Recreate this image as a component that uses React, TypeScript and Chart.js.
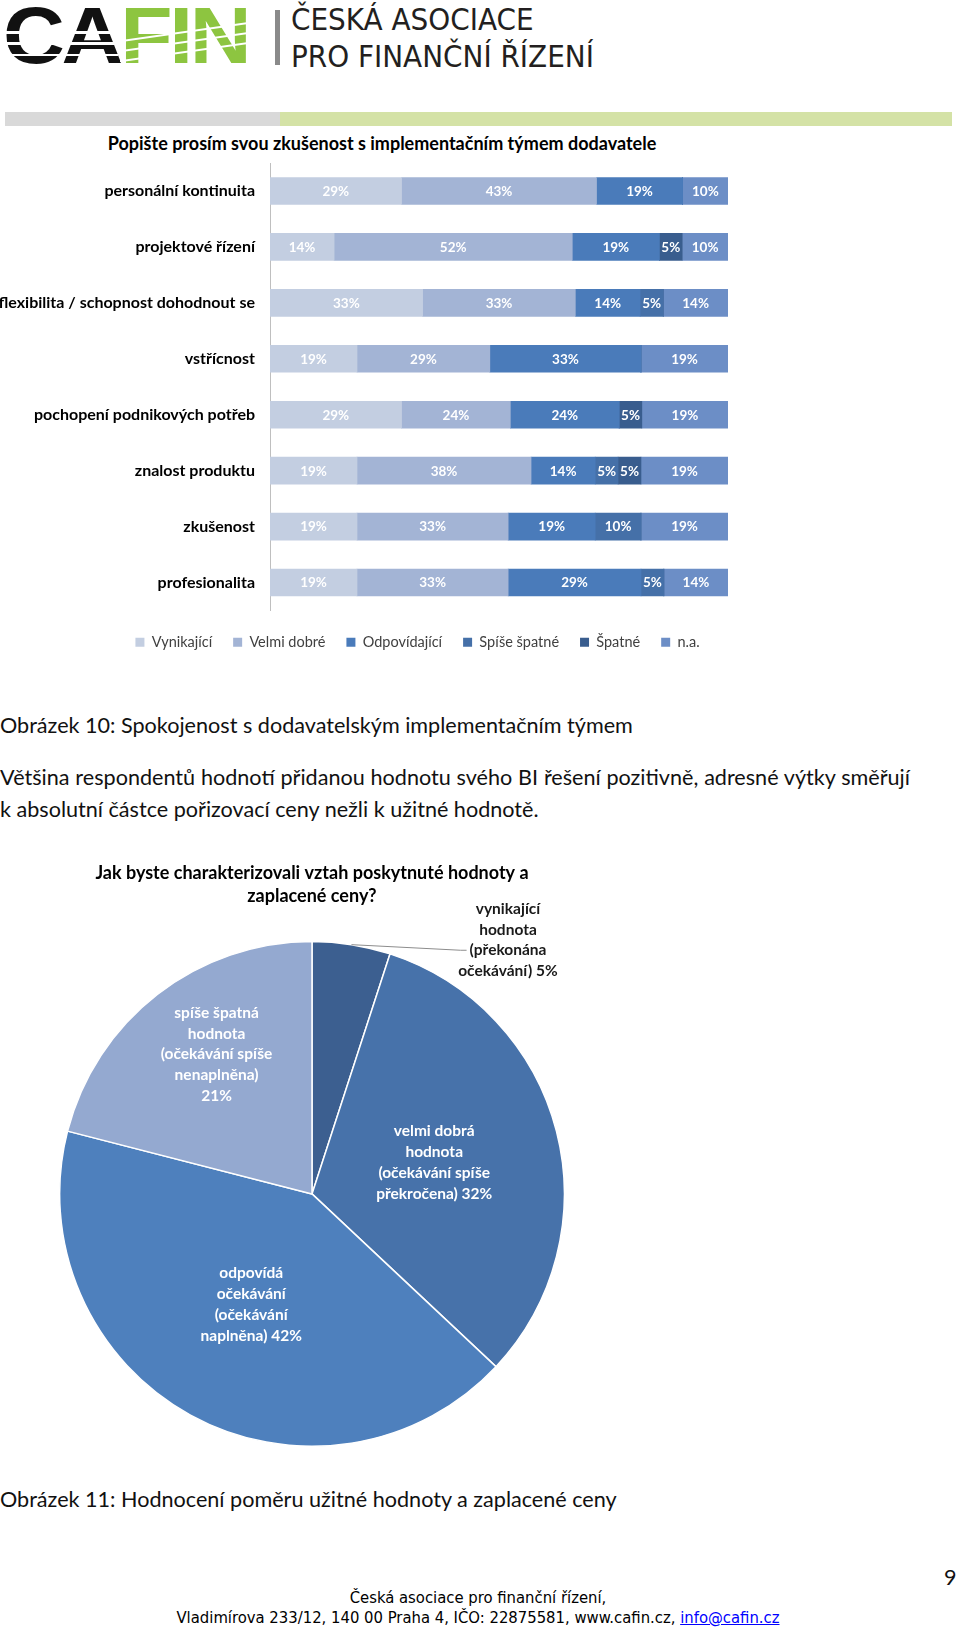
import React, { useEffect, useRef } from "react";
import { Chart, registerables } from "chart.js";
Chart.register(...registerables);

// ---------- Bar chart data ----------
const barTitle = "Popište prosím svou zkušenost s implementačním týmem dodavatele";
const barCategories = [
  "personální kontinuita",
  "projektové řízení",
  "flexibilita / schopnost dohodnout se",
  "vstřícnost",
  "pochopení podnikových potřeb",
  "znalost produktu",
  "zkušenost",
  "profesionalita",
];
const seriesNames = ["Vynikající", "Velmi dobré", "Odpovídající", "Spíše špatné", "Špatné", "n.a."];
const vynikajici = [29, 14, 33, 19, 29, 19, 19, 19];
const velmiDobre = [43, 52, 33, 29, 24, 38, 33, 33];
const odpovidajici = [19, 19, 14, 33, 24, 14, 19, 29];
const spiseSpatne = [0, 0, 5, 0, 0, 5, 10, 5];
const spatne = [0, 5, 0, 0, 5, 5, 0, 0];
const nA = [10, 10, 14, 19, 19, 19, 19, 14];
const seriesValues = [vynikajici, velmiDobre, odpovidajici, spiseSpatne, spatne, nA];
const seriesColors = ["#c3cee1", "#a3b4d5", "#4a7bba", "#4570a8", "#395d8e", "#6c8ec6"];

// ---------- Pie chart data ----------
const pieTitle = ["Jak byste charakterizovali vztah poskytnuté hodnoty a", "zaplacené ceny?"];
const pieCategoryLines = [
  ["vynikající", "hodnota", "(překonána", "očekávání)"],
  ["velmi dobrá", "hodnota", "(očekávání spíše", "překročena)"],
  ["odpovídá", "očekávání", "(očekávání", "naplněna)"],
  ["spíše špatná", "hodnota", "(očekávání spíše", "nenaplněna)"],
];
const pieValues = [5, 32, 42, 21];
const pieColors = ["#3c5f90", "#4772aa", "#4e80bd", "#94a9d0"];

// label placement style (fraction of radius / angle nudge, callout for first slice)
const pieLabelRadius = [0, 0.5, 0.5, 0.67];
const pieLabelAngleNudge = [0, 0, 0, 0.06];
const piePercentOwnLine = [false, false, false, true];
const calloutOffset = { dx: 196, dy: -254 };

const FONT = "Lato, 'Open Sans', sans-serif";
const NARROW = "'Liberation Sans Narrow', 'DejaVu Sans Condensed', sans-serif";

const barLabelPlugin = {
  id: "barLabels",
  afterDatasetsDraw(chart: any) {
    const ctx = chart.ctx;
    ctx.save();
    ctx.font = `bold 13.5px ${FONT}`;
    ctx.fillStyle = "#ffffff";
    ctx.textAlign = "center";
    ctx.textBaseline = "middle";
    chart.data.datasets.forEach((_ds: any, di: number) => {
      const meta = chart.getDatasetMeta(di);
      const raw = seriesValues[di];
      meta.data.forEach((el: any, i: number) => {
        const v = raw[i];
        if (!v) return;
        const { x, base, y } = el.getProps(["x", "base", "y"], true);
        ctx.fillText(`${v}%`, (x + base) / 2, y + 0.5);
      });
    });
    ctx.restore();
  },
};

// shift the legend so that it is centred like in the original document
const legendShiftPlugin = {
  id: "legendShift",
  afterLayout(chart: any) {
    const lg = chart.legend;
    if (!lg) return;
    lg.left += 53.5;
    lg.right += 53.5;
    lg.top += 3.5;
    lg.bottom += 3.5;
  },
};

const pieLabelPlugin = {
  id: "pieLabels",
  afterDatasetsDraw(chart: any) {
    const ctx = chart.ctx;
    const meta = chart.getDatasetMeta(0);
    const lh = 20.7;
    ctx.save();
    ctx.font = `bold 15.5px ${FONT}`;
    ctx.textAlign = "center";
    ctx.textBaseline = "middle";
    meta.data.forEach((el: any, i: number) => {
      const { x, y, startAngle, endAngle, outerRadius } = el.getProps(
        ["x", "y", "startAngle", "endAngle", "outerRadius"],
        true
      );
      const mid = (startAngle + endAngle) / 2;
      const lines = pieCategoryLines[i].slice();
      if (piePercentOwnLine[i]) lines.push(`${pieValues[i]}%`);
      else lines[lines.length - 1] = `${lines[lines.length - 1]} ${pieValues[i]}%`;
      let cx: number, cy: number;
      if (pieLabelRadius[i] === 0) {
        cx = x + calloutOffset.dx;
        cy = y + calloutOffset.dy;
        ctx.fillStyle = "#1a1a1a";
        const sx = x + Math.cos(mid) * outerRadius;
        const sy = y + Math.sin(mid) * outerRadius;
        const lineY = cy - ((lines.length - 1) / 2) * lh + 2 * lh;
        const w = ctx.measureText(lines[2]).width;
        const ex = cx - w / 2 - 3;
        ctx.beginPath();
        ctx.strokeStyle = "#8c8c8c";
        ctx.lineWidth = 1;
        ctx.moveTo(sx, sy);
        ctx.lineTo(ex - 6, lineY);
        ctx.lineTo(ex, lineY);
        ctx.stroke();
      } else {
        const r = outerRadius * pieLabelRadius[i];
        const a = mid + pieLabelAngleNudge[i];
        cx = x + Math.cos(a) * r;
        cy = y + Math.sin(a) * r;
        ctx.fillStyle = "#ffffff";
      }
      const top = cy - ((lines.length - 1) / 2) * lh;
      lines.forEach((t, k) => ctx.fillText(t, cx, top + k * lh));
    });
    ctx.restore();
  },
};

function BarChart() {
  const ref = useRef<HTMLCanvasElement | null>(null);
  useEffect(() => {
    if (!ref.current) return;
    const sums = barCategories.map((_c, i) => seriesValues.reduce((s, arr) => s + arr[i], 0));
    const chart = new Chart(ref.current, {
      type: "bar",
      data: {
        labels: barCategories,
        datasets: seriesNames.map((name, di) => ({
          label: name,
          data: seriesValues[di].map((v, i) => (v / sums[i]) * 100),
          backgroundColor: seriesColors[di],
          borderWidth: 0,
          barThickness: 27,
        })),
      },
      options: {
        indexAxis: "y",
        animation: false,
        responsive: false,
        events: [],
        layout: { padding: { top: 8, left: 0, right: 12, bottom: 0 } },
        scales: {
          x: { stacked: true, min: 0, max: 100, display: false },
          y: {
            stacked: true,
            grid: { display: false, drawTicks: false },
            border: { display: true, color: "#bfbfbf", width: 1 },
            ticks: { padding: 15, color: "#000000", font: { family: FONT, size: 16, weight: "bold" } },
            afterFit: (s: any) => {
              s.width = 270;
              s.paddingTop = 0;
              s.paddingBottom = 0;
            },
          },
        },
        plugins: {
          legend: {
            position: "bottom",
            labels: {
              boxWidth: 9,
              boxHeight: 9,
              padding: 21,
              color: "#404040",
              font: { family: FONT, size: 14.5 },
            },
          },
          tooltip: { enabled: false },
          title: { display: false },
        },
      } as any,
      plugins: [barLabelPlugin, legendShiftPlugin],
    });
    return () => chart.destroy();
  }, []);
  return (
    <canvas
      ref={ref}
      width={740}
      height={501}
      style={{ position: "absolute", left: 0, top: 155, width: 740, height: 501 }}
    />
  );
}

function PieChart() {
  const ref = useRef<HTMLCanvasElement | null>(null);
  useEffect(() => {
    if (!ref.current) return;
    const chart = new Chart(ref.current, {
      type: "pie",
      data: {
        labels: pieCategoryLines.map((l) => l.join(" ")),
        datasets: [
          {
            data: pieValues,
            backgroundColor: pieColors,
            borderColor: "#ffffff",
            borderWidth: 1.5,
            hoverOffset: 0,
          },
        ],
      },
      options: {
        animation: false,
        responsive: false,
        events: [],
        layout: { padding: 0 },
        plugins: {
          legend: { display: false },
          tooltip: { enabled: false },
          title: {
            display: true,
            text: pieTitle,
            color: "#000000",
            font: { family: FONT, size: 18, weight: "bold", lineHeight: 1.3 },
            padding: { top: 6.5, bottom: 32.5 },
          },
        },
      } as any,
      plugins: [pieLabelPlugin],
    });
    return () => chart.destroy();
  }, []);
  return (
    <canvas
      ref={ref}
      width={624}
      height={592}
      style={{ position: "absolute", left: 0, top: 855, width: 624, height: 592 }}
    />
  );
}

const abs = (s: React.CSSProperties): React.CSSProperties => ({ position: "absolute", margin: 0, ...s });

const textStyle: React.CSSProperties = {
  fontFamily: FONT,
  fontSize: 21.6,
  lineHeight: "24px",
  color: "#111",
  whiteSpace: "nowrap",
};

export default function App() {
  return (
    <div style={abs({ left: 0, top: 0, width: 960, height: 1629, background: "#ffffff", overflow: "hidden" })}>
      {/* logo */}
      <div
        style={abs({
          left: 3,
          top: -6,
          fontFamily: "'Liberation Sans', Arial, sans-serif",
          fontWeight: 900,
          fontSize: 80,
          lineHeight: "84px",
          letterSpacing: -3,
          transform: "scaleX(1.07)",
          transformOrigin: "left top",
          whiteSpace: "nowrap",
        })}
      >
        <span style={{ color: "#111111" }}>CA</span>
        <span style={{ color: "#8dc540" }}>FIN</span>
      </div>
      {/* logo stripes */}
      <div style={abs({ left: 0, top: 31, width: 118, height: 3, background: "#fff" })} />
      <div style={abs({ left: 0, top: 42, width: 118, height: 3, background: "#fff" })} />
      <div style={abs({ left: 0, top: 54, width: 118, height: 2, background: "#fff" })} />
      <div style={abs({ left: 120, top: 31, width: 130, height: 2, background: "#fff", transform: "skewY(-8deg)" })} />
      <div style={abs({ left: 120, top: 41, width: 130, height: 2, background: "#fff", transform: "skewY(-8deg)" })} />
      <div style={abs({ left: 120, top: 51, width: 130, height: 2, background: "#fff", transform: "skewY(-8deg)" })} />
      <div style={abs({ left: 275, top: 10, width: 5, height: 55, background: "#8a8a8a" })} />
      <div
        style={abs({
          left: 291,
          top: 1,
          fontFamily: NARROW,
          fontSize: 31,
          lineHeight: "37px",
          color: "#231f20",
          whiteSpace: "nowrap",
        })}
      >
        ČESKÁ ASOCIACE
        <br />
        PRO FINANČNÍ ŘÍZENÍ
      </div>
      {/* band */}
      <div style={abs({ left: 5, top: 112, width: 275, height: 14, background: "#d9d9d9" })} />
      <div style={abs({ left: 280, top: 112, width: 672, height: 14, background: "#d4e2a6" })} />

      {/* bar chart */}
      <div
        style={abs({
          left: 0,
          width: 764,
          top: 131,
          textAlign: "center",
          fontFamily: FONT,
          fontWeight: "bold",
          fontSize: 18,
          lineHeight: "24px",
          color: "#000",
          whiteSpace: "nowrap",
        })}
      >
        {barTitle}
      </div>
      <BarChart />

      {/* texts */}
      <div style={abs({ left: 0, top: 713, ...textStyle })}>
        Obrázek 10: Spokojenost s dodavatelským implementačním týmem
      </div>
      <div
        style={abs({
          left: 0,
          top: 765,
          width: 910,
          ...textStyle,
          textAlign: "justify",
          textAlignLast: "justify",
        } as any)}
      >
        Většina respondentů hodnotí přidanou hodnotu svého BI řešení pozitivně, adresné výtky směřují
      </div>
      <div style={abs({ left: 0, top: 797, ...textStyle })}>
        k absolutní částce pořizovací ceny nežli k užitné hodnotě.
      </div>

      <PieChart />

      <div style={abs({ left: 0, top: 1487, ...textStyle })}>
        Obrázek 11: Hodnocení poměru užitné hodnoty a zaplacené ceny
      </div>
      <div style={abs({ left: 944, top: 1565, ...textStyle })}>9</div>
      <div
        style={abs({
          left: 0,
          width: 956,
          top: 1588,
          textAlign: "center",
          fontFamily: NARROW,
          fontSize: 16.5,
          lineHeight: "20px",
          color: "#000",
          whiteSpace: "nowrap",
        })}
      >
        Česká asociace pro finanční řízení,
        <br />
        Vladimírova 233/12, 140 00 Praha 4, IČO: 22875581, www.cafin.cz,{" "}
        <span style={{ color: "#0000ff", textDecoration: "underline" }}>info@cafin.cz</span>
      </div>
    </div>
  );
}
